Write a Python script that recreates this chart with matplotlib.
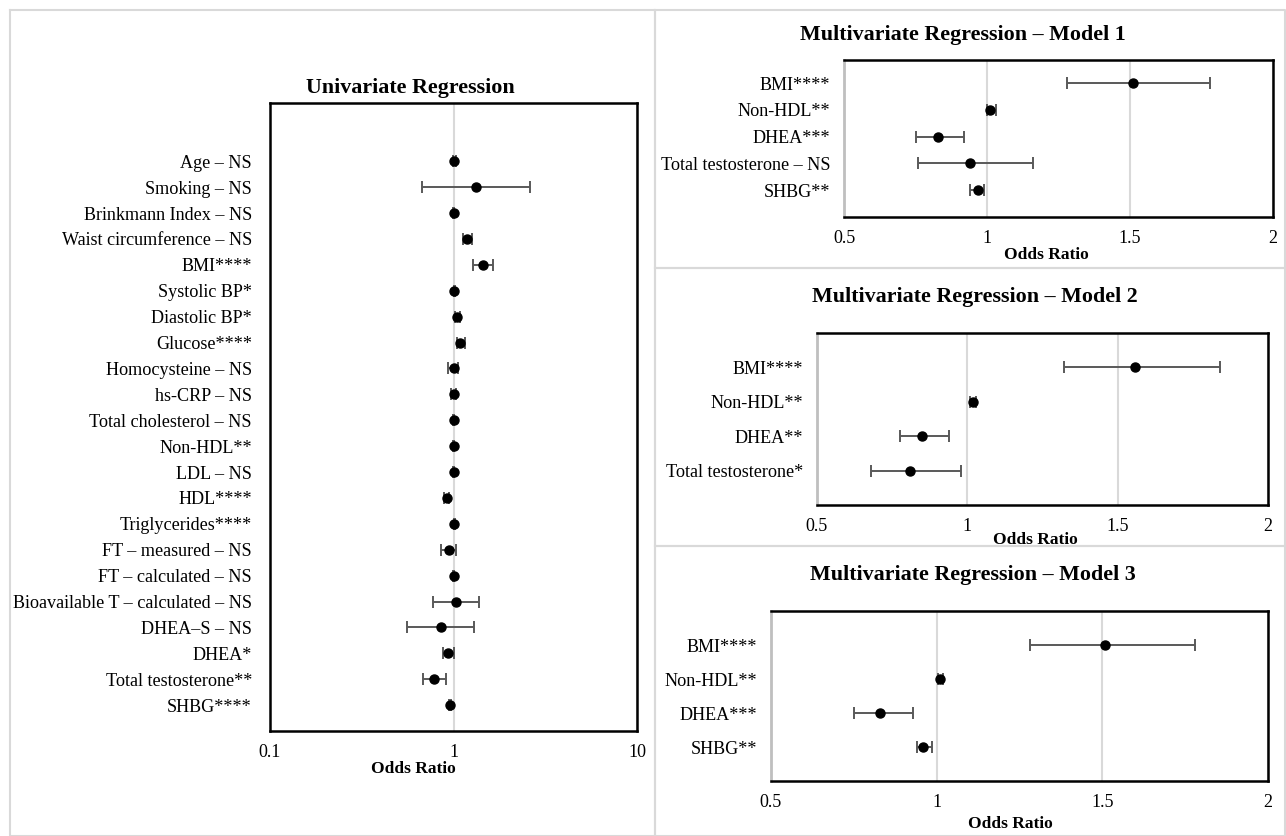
import matplotlib
matplotlib.use("Agg")
import matplotlib.pyplot as plt
import numpy as np

plt.rcParams['font.family'] = ['Liberation Serif', 'DejaVu Serif']

# ---------------- data ----------------
uni_labels = ["Age – NS", "Smoking – NS", "Brinkmann Index – NS", "Waist circumference – NS",
              "BMI****", "Systolic BP*", "Diastolic BP*", "Glucose****", "Homocysteine – NS",
              "hs-CRP – NS", "Total cholesterol – NS", "Non-HDL**", "LDL – NS", "HDL****",
              "Triglycerides****", "FT – measured – NS", "FT – calculated – NS",
              "Bioavailable T – calculated – NS", "DHEA–S – NS", "DHEA*",
              "Total testosterone**", "SHBG****"]
uni_or = [1.01, 1.32, 1.00, 1.19, 1.45, 1.01, 1.05, 1.09, 1.00, 1.00, 1.00, 1.00, 1.00, 0.92,
          1.01, 0.94, 1.00, 1.03, 0.86, 0.93, 0.785, 0.955]
uni_lo = [0.99, 0.67, 0.99, 1.12, 1.27, 1.00, 1.02, 1.04, 0.93, 0.97, 0.99, 0.99, 0.99, 0.89,
          1.00, 0.86, 0.99, 0.77, 0.56, 0.88, 0.68, 0.94]
uni_hi = [1.03, 2.60, 1.01, 1.26, 1.65, 1.02, 1.08, 1.15, 1.06, 1.03, 1.01, 1.01, 1.01, 0.95,
          1.02, 1.03, 1.01, 1.37, 1.30, 1.00, 0.91, 0.97]

m1_labels = ["BMI****", "Non-HDL**", "DHEA***", "Total testosterone – NS", "SHBG**"]
m1_or = [1.51, 1.01, 0.83, 0.94, 0.97]
m1_lo = [1.28, 1.00, 0.75, 0.76, 0.94]
m1_hi = [1.78, 1.03, 0.92, 1.16, 0.99]

m2_labels = ["BMI****", "Non-HDL**", "DHEA**", "Total testosterone*"]
m2_or = [1.558, 1.02, 0.85, 0.81]
m2_lo = [1.32, 1.01, 0.775, 0.68]
m2_hi = [1.84, 1.03, 0.94, 0.98]

m3_labels = ["BMI****", "Non-HDL**", "DHEA***", "SHBG**"]
m3_or = [1.509, 1.01, 0.83, 0.96]
m3_lo = [1.281, 1.005, 0.749, 0.94]
m3_hi = [1.779, 1.02, 0.93, 0.986]

uni_ticks = [0.1, 1, 10]
uni_ticklabels = ["0.1", "1", "10"]
multi_ticks = [0.5, 1, 1.5, 2]
multi_ticklabels = ["0.5", "1", "1.5", "2"]

# ---------------- layout ----------------
W, H = 1286, 836
fig = plt.figure(figsize=(W / 100, H / 100), dpi=100)
fig.patch.set_facecolor("white")

def rect(l, t, r, b):
    return [l / W, 1 - b / H, (r - l) / W, (b - t) / H]

FRAME = "#D9D9D9"
GRID = "#D9D9D9"
ERR = "#595959"
LABEL_FS = 13.1
TICK_FS = 13
TITLE_FS = 15.8
XLAB_FS = 12.5

# outer panel frames
frame_ax = fig.add_axes([0, 0, 1, 1])
frame_ax.set_xlim(0, W)
frame_ax.set_ylim(H, 0)
frame_ax.axis("off")
for (l, t, r, b) in [(10, 10, 655, 836), (655, 10, 1285, 268), (655, 268, 1285, 546), (655, 546, 1285, 836)]:
    frame_ax.plot([l, r, r, l, l], [t, t, b, b, t], color=FRAME, lw=1.5, zorder=0)


def forest(ax, labels, orv, lo, hi, ticks, ticklabels, xlim, ytop, log=False, left_black=True, ypad=10):
    n = len(labels)
    ys = np.arange(n, 0, -1)
    orv = np.asarray(orv); lo = np.asarray(lo); hi = np.asarray(hi)
    if log:
        ax.set_xscale("log")
    ax.set_xlim(*xlim)
    ax.set_ylim(0, ytop)
    for t in ticks:
        ax.axvline(t, color=GRID, lw=1.5, zorder=1)
    ax.errorbar(orv, ys, xerr=[orv - lo, hi - orv], fmt="none", ecolor=ERR, elinewidth=1.4,
                capsize=4, capthick=1.4, zorder=2)
    ax.plot(orv, ys, "o", color="black", ms=6.5, zorder=3)
    ax.set_yticks(ys)
    ax.set_yticklabels(labels, fontsize=LABEL_FS)
    ax.set_xticks(ticks)
    ax.set_xticklabels(ticklabels, fontsize=TICK_FS)
    ax.minorticks_off()
    ax.tick_params(axis="both", length=0)
    ax.tick_params(axis="y", pad=ypad)
    ax.tick_params(axis="x", pad=9.5)
    for s in ["top", "right", "bottom", "left"]:
        ax.spines[s].set_linewidth(1.8)
        ax.spines[s].set_color("black")
    if not left_black:
        ax.spines["left"].set_color("#BFBFBF")
        ax.spines["left"].set_linewidth(2.0)


# Univariate
ax0 = fig.add_axes(rect(270, 103, 637, 731))
forest(ax0, uni_labels, uni_or, uni_lo, uni_hi, uni_ticks, uni_ticklabels, (0.1, 10), 24.25,
       log=True, left_black=True, ypad=13)
fig.text(410 / W, 1 - 88 / H, "Univariate Regression", ha="center", va="center",
         fontsize=TITLE_FS, fontweight="bold")
fig.text(413 / W, 1 - 769 / H, "Odds Ratio", ha="center", va="center", fontsize=XLAB_FS, fontweight="bold")

# Model 1
ax1 = fig.add_axes(rect(844, 60, 1273, 217))
forest(ax1, m1_labels, m1_or, m1_lo, m1_hi, multi_ticks, multi_ticklabels, (0.5, 2), 5.86,
       left_black=False)
fig.text(963 / W, 1 - 35 / H, "Multivariate Regression – Model 1", ha="center", va="center",
         fontsize=TITLE_FS, fontweight="bold")
fig.text(1046 / W, 1 - 255 / H, "Odds Ratio", ha="center", va="center", fontsize=XLAB_FS, fontweight="bold")

# Model 2
ax2 = fig.add_axes(rect(817, 333, 1268, 505))
forest(ax2, m2_labels, m2_or, m2_lo, m2_hi, multi_ticks, multi_ticklabels, (0.5, 2), 5,
       left_black=False)
fig.text(975 / W, 1 - 297 / H, "Multivariate Regression – Model 2", ha="center", va="center",
         fontsize=TITLE_FS, fontweight="bold")
fig.text(1035 / W, 1 - 540 / H, "Odds Ratio", ha="center", va="center", fontsize=XLAB_FS, fontweight="bold")

# Model 3
ax3 = fig.add_axes(rect(771, 611, 1268, 781))
forest(ax3, m3_labels, m3_or, m3_lo, m3_hi, multi_ticks, multi_ticklabels, (0.5, 2), 5,
       left_black=False)
fig.text(973 / W, 1 - 575 / H, "Multivariate Regression – Model 3", ha="center", va="center",
         fontsize=TITLE_FS, fontweight="bold")
fig.text(1010 / W, 1 - 824 / H, "Odds Ratio", ha="center", va="center", fontsize=XLAB_FS, fontweight="bold")

fig.savefig("out.png", dpi=100, facecolor="white")
